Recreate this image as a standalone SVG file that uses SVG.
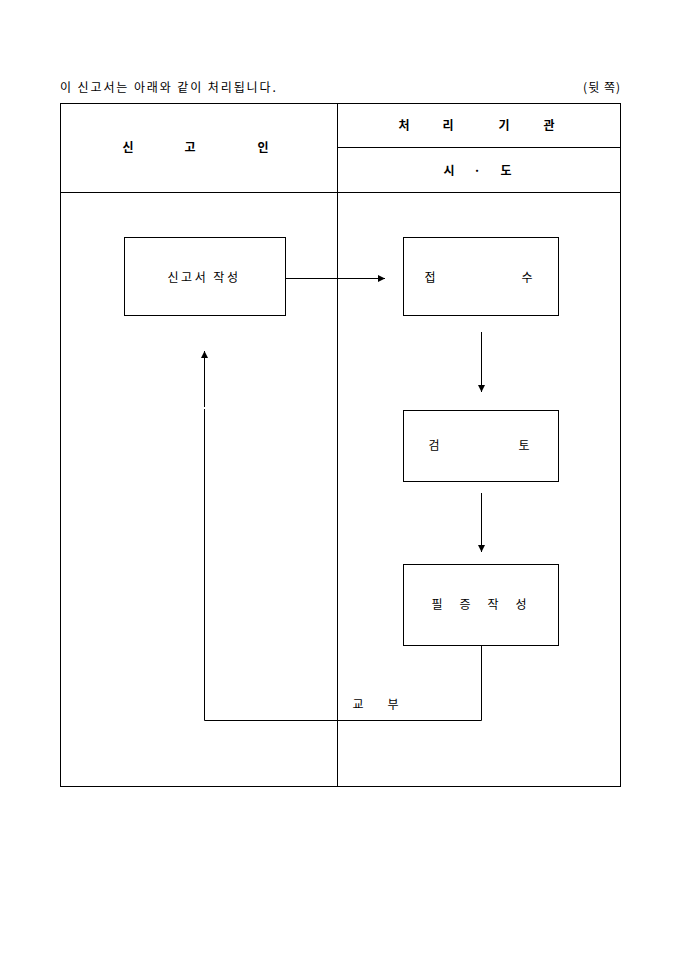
<svg xmlns="http://www.w3.org/2000/svg" width="680" height="962" viewBox="0 0 680 962">
<style>
text{font-family:"Noto Sans CJK KR","Noto Sans CJK SC",sans-serif;font-size:12px;fill:#000;}
.h{font-weight:bold;font-size:12px;}
.c{text-anchor:middle;}
.frame{fill:none;stroke:#000;stroke-width:1;}
.box{fill:#fff;stroke:#000;stroke-width:1;}
.ln{fill:none;stroke:#000;stroke-width:1;}
</style>
<defs>
<marker id="ah" markerWidth="8" markerHeight="8" refX="7" refY="4" orient="auto" markerUnits="userSpaceOnUse">
<path d="M0,0.5 L7,4 L0,7.5 Z" fill="#000"/>
</marker>
</defs>
<rect width="680" height="962" fill="#fff"/>
<text x="60" y="92" font-size="12.5" letter-spacing="1.9">이 신고서는 아래와 같이 처리됩니다.</text>
<text x="621" y="92" text-anchor="end" letter-spacing="1">(뒷 쪽)</text>
<g id="table">
<rect class="frame" x="60.5" y="103.5" width="560" height="683"/>
<line class="frame" x1="337.5" y1="103.5" x2="337.5" y2="786.5"/>
<line class="frame" x1="60.5" y1="192.5" x2="620.5" y2="192.5"/>
<line class="frame" x1="337.5" y1="147.5" x2="620.5" y2="147.5"/>
<text class="h c" x="128" y="152">신</text>
<text class="h c" x="190" y="152">고</text>
<text class="h c" x="263" y="152">인</text>
<text class="h c" x="404" y="130">처</text>
<text class="h c" x="448" y="130">리</text>
<text class="h c" x="504" y="130">기</text>
<text class="h c" x="549" y="130">관</text>
<text class="h c" x="449" y="175">시</text>
<text class="h c" x="477" y="175">·</text>
<text class="h c" x="506" y="175">도</text>
</g>
<g id="connectors">
<line class="ln" x1="285" y1="278.5" x2="385" y2="278.5" marker-end="url(#ah)"/>
<line class="ln" x1="481.5" y1="332" x2="481.5" y2="392" marker-end="url(#ah)"/>
<line class="ln" x1="481.5" y1="493" x2="481.5" y2="552" marker-end="url(#ah)"/>
<polyline class="ln" points="481.5,645 481.5,720.5 204.5,720.5 204.5,409"/>
<line class="ln" x1="204.5" y1="407" x2="204.5" y2="351" marker-end="url(#ah)"/>
<text class="c" x="358" y="709">교</text>
<text class="c" x="393" y="709">부</text>
</g>
<g id="n1">
<rect class="box" x="124.5" y="237.5" width="161" height="78"/>
<text class="c" x="204" y="282" font-size="12.5" letter-spacing="2.5">신고서 작성</text>
</g>
<g id="n2">
<rect class="box" x="403.5" y="237.5" width="155" height="78"/>
<text class="c" x="430" y="282">접</text>
<text class="c" x="527" y="282">수</text>
</g>
<g id="n3">
<rect class="box" x="403.5" y="410.5" width="155" height="71"/>
<text class="c" x="434" y="450">검</text>
<text class="c" x="524" y="450">토</text>
</g>
<g id="n4">
<rect class="box" x="403.5" y="564.5" width="155" height="81"/>
<text class="c" x="437" y="609">필</text>
<text class="c" x="465" y="609">증</text>
<text class="c" x="493" y="609">작</text>
<text class="c" x="521" y="609">성</text>
</g>
</svg>
